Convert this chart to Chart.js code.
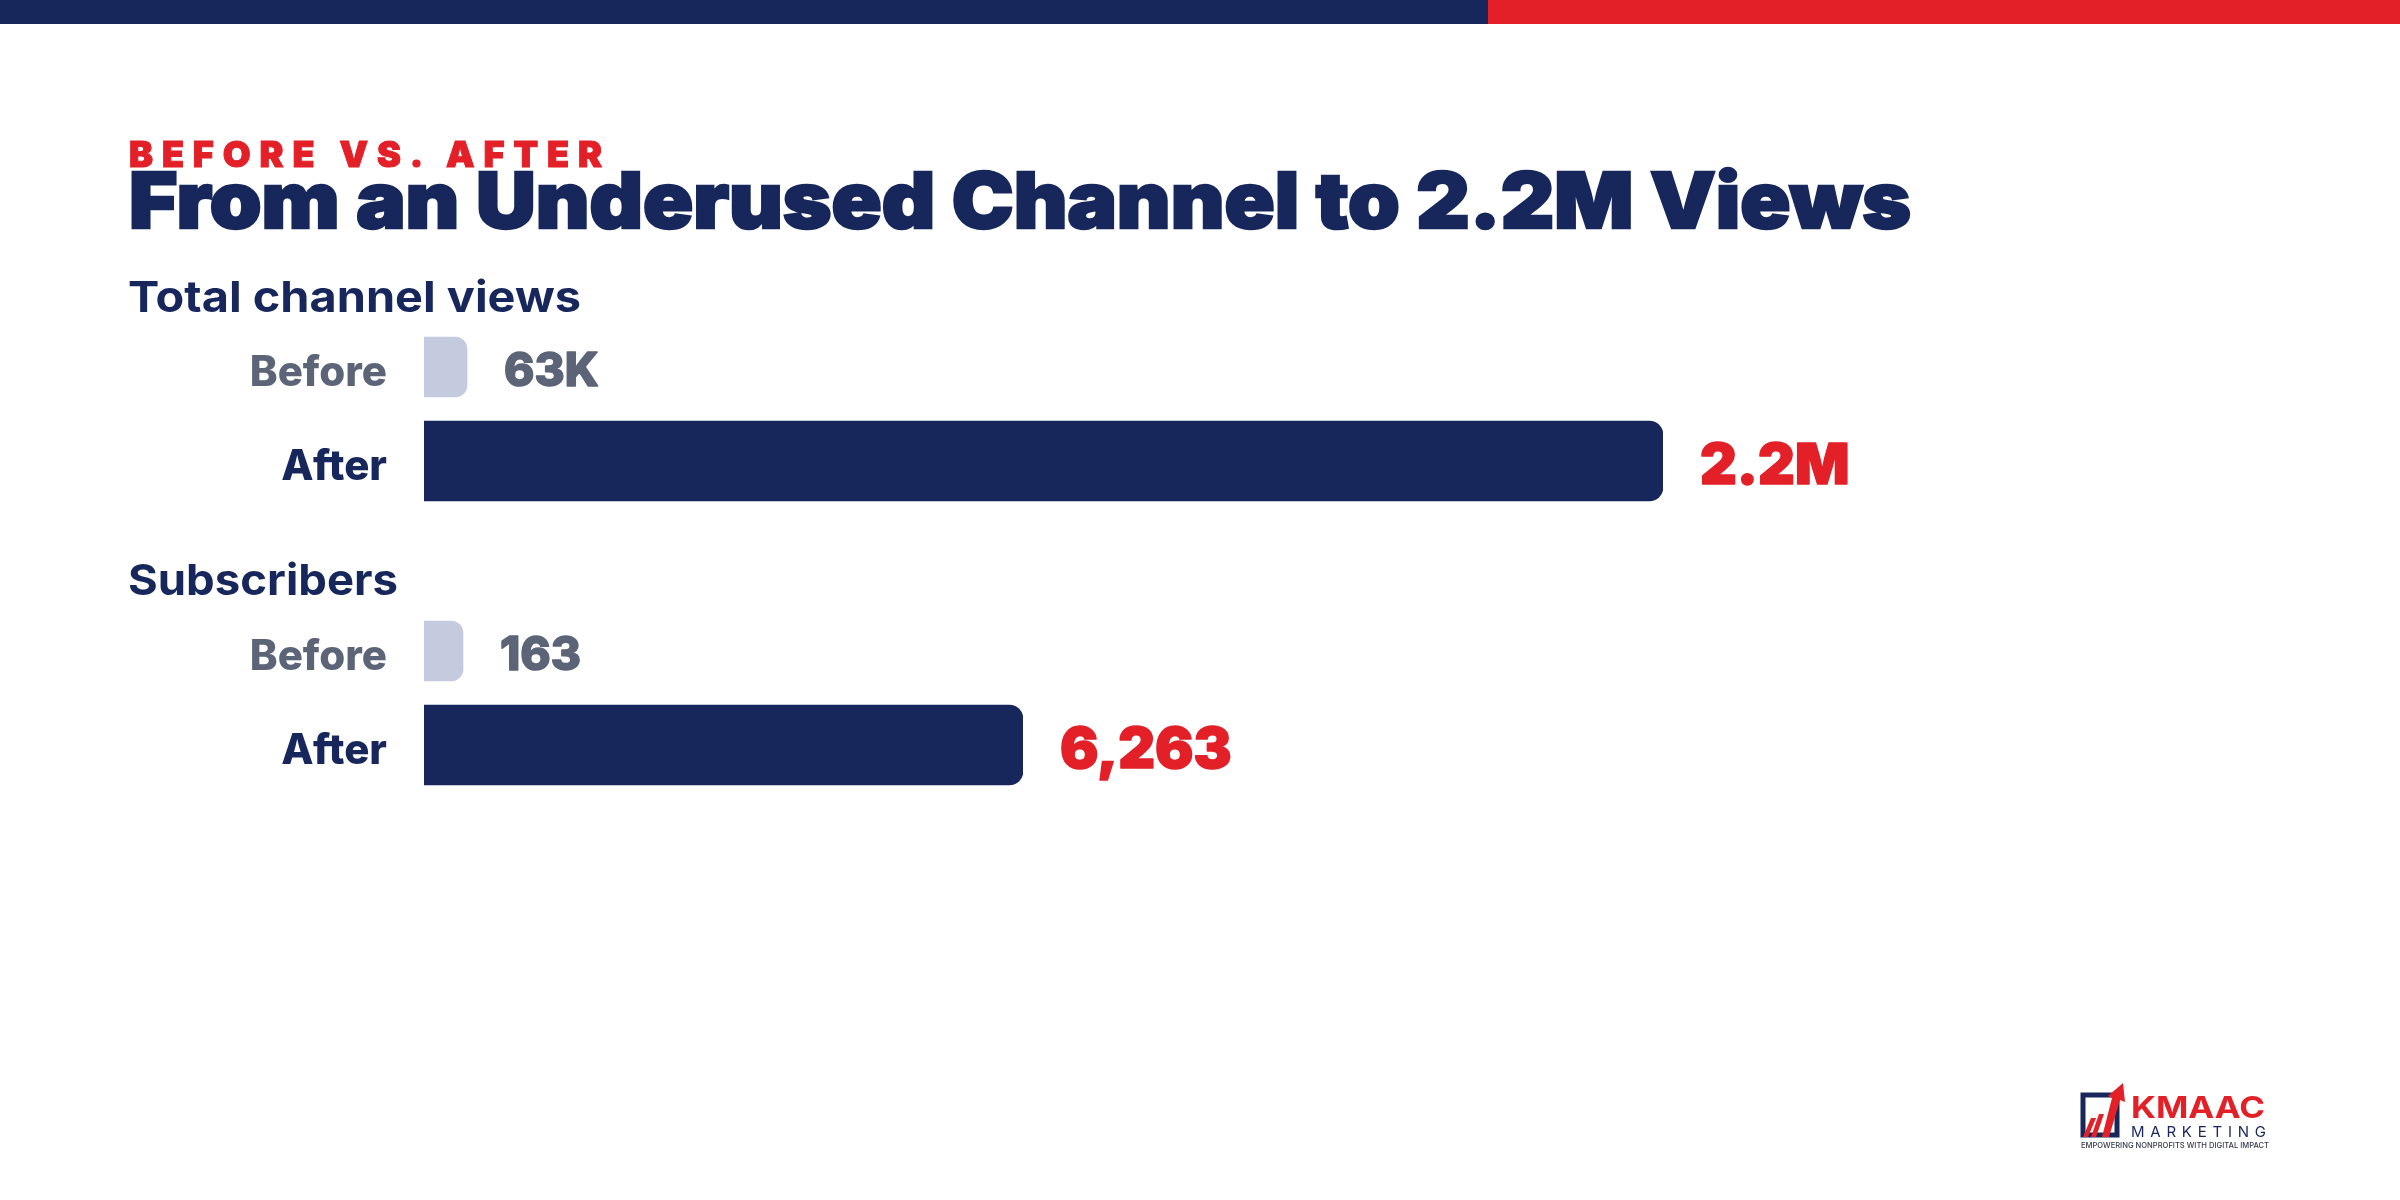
<!DOCTYPE html>
<html>
<head>
<meta charset="utf-8">
<title>From an Underused Channel to 2.2M Views</title>
<script src="https://cdn.jsdelivr.net/npm/chart.js@4/dist/chart.umd.min.js"></script>
<style>
    html, body { margin: 0; padding: 0; background: #fff; }
    #page { position: relative; width: 2400px; height: 1200px; overflow: hidden; background: #fff; }
    .bar-navy { position: absolute; left: 0; top: 0; width: 1488px; height: 24px; background: #17275c; }
    .bar-red { position: absolute; left: 1488px; top: 0; width: 912px; height: 24px; background: #e32028; }
    canvas { position: absolute; left: 0; }
    #viewsChart { top: 320px; }
    #subsChart { top: 604px; }
    svg { position: absolute; left: 0; top: 0; }
    text { font-family: Inter, sans-serif; }
</style>
</head>
<body>
<div id="page">
    <div class="bar-navy"></div>
    <div class="bar-red"></div>
    <canvas id="viewsChart" width="2400" height="188"></canvas>
    <canvas id="subsChart" width="2400" height="188"></canvas>
    <svg width="2400" height="1200" viewBox="0 0 2400 1200">
        <text x="129" y="167" fill="#e32028" stroke="#e32028" stroke-width="1" font-size="36" font-weight="900" textLength="473" lengthAdjust="spacing">BEFORE VS. AFTER</text>
        <text x="129" y="228" fill="#17275c" stroke="#17275c" stroke-width="2.5" font-size="77" font-weight="900" textLength="1782" lengthAdjust="spacingAndGlyphs">From an Underused Channel to 2.2M Views</text>
        <text x="128" y="312" fill="#17275c" font-size="43" font-weight="700" textLength="453" lengthAdjust="spacingAndGlyphs">Total channel views</text>
        <text x="128" y="595" fill="#17275c" font-size="43" font-weight="700" textLength="270" lengthAdjust="spacingAndGlyphs">Subscribers</text>

        <!-- logo -->
        <path d="M2083 1095 H2117 V1135 H2083 Z" fill="none" stroke="#17275c" stroke-width="5"/>
        <path d="M2083 1137 L2091 1118 H2096 L2088 1137 Z M2091 1137 L2099 1114 H2104 L2096 1137 Z" fill="#e32028"/>
        <path d="M2102 1137 L2112 1098 L2108 1096 L2123 1083 L2125 1102 L2120 1100 L2109 1137 Z" fill="#e32028"/>
        <text x="2131" y="1118" fill="#e32028" font-size="30" font-weight="700" textLength="134" lengthAdjust="spacingAndGlyphs">KMAAC</text>
        <text x="2131" y="1137" fill="#17275c" font-size="15" font-weight="400" textLength="135" lengthAdjust="spacing">MARKETING</text>
        <text x="2081" y="1148" fill="#333a4a" font-size="8" font-weight="500" textLength="188" lengthAdjust="spacingAndGlyphs">EMPOWERING NONPROFITS WITH DIGITAL IMPACT</text>
    </svg>
</div>
<script>
const categories = ['Before', 'After'];
const viewsBefore = [63000, null];
const viewsAfter = [null, 2200000];
const viewsLabels = ['63K', '2.2M'];
const subsBefore = [163, null];
const subsAfter = [null, 6263];
const subsLabels = ['163', '6,263'];

const NAVY = '#17275c';
const RED = '#e32028';
const PALE = '#c5cbdf';
const SLATE = '#5c6478';

// value labels next to the bar ends
const valueLabels = {
    id: 'valueLabels',
    afterDatasetsDraw(chart, args, opts) {
        const ctx = chart.ctx;
        ctx.save();
        ctx.textAlign = 'left';
        ctx.textBaseline = 'alphabetic';
        ctx.lineJoin = 'round';
        chart.data.datasets.forEach((ds, d) => {
            chart.getDatasetMeta(d).data.forEach((bar, i) => {
                if (ds.data[i] === null) return;
                const before = i === 0;
                const x = bar.x + 37;
                const y = bar.y + (before ? 19 : 23);
                ctx.fillStyle = ctx.strokeStyle = before ? SLATE : RED;
                ctx.lineWidth = 1.5;
                ctx.font = before ? '800 46px Inter' : '900 57px Inter';
                ctx.fillText(opts.labels[i], x, y);
                ctx.strokeText(opts.labels[i], x, y);
            });
        });
        ctx.restore();
    }
};

function makeChart(id, before, after, labels, maxValue, rightPad, minLen) {
    return new Chart(document.getElementById(id), {
        type: 'bar',
        data: {
            labels: categories,
            datasets: [
                { label: 'Before', data: before, backgroundColor: PALE, barThickness: 60, minBarLength: minLen, borderRadius: 12 },
                { label: 'After', data: after, backgroundColor: NAVY, barThickness: 80, borderRadius: 14 }
            ]
        },
        options: {
            indexAxis: 'y',
            responsive: false,
            animation: false,
            grouped: false,
            layout: { padding: { right: rightPad } },
            plugins: {
                legend: { display: false },
                tooltip: { enabled: false },
                valueLabels: { labels }
            },
            scales: {
                x: { display: false, min: 0, max: maxValue },
                y: {
                    grid: { display: false, drawTicks: false },
                    border: { display: false },
                    afterFit: (scale) => {
                        scale.width = 424;
                        // tick padding would otherwise eat the plot height
                        scale.paddingTop = 0;
                        scale.paddingBottom = 0;
                    },
                    ticks: {
                        padding: 37,
                        labelOffset: 6,
                        color: (c) => c.index === 0 ? SLATE : NAVY,
                        font: { family: 'Inter', size: 42, weight: '800' }
                    }
                }
            }
        },
        plugins: [valueLabels]
    });
}

document.addEventListener('DOMContentLoaded', () => {
    makeChart('viewsChart', viewsBefore, viewsAfter, viewsLabels, 2200000, 737, 43);
    makeChart('subsChart', subsBefore, subsAfter, subsLabels, 6263, 1377, 39);
});
</script>
</body>
</html>
